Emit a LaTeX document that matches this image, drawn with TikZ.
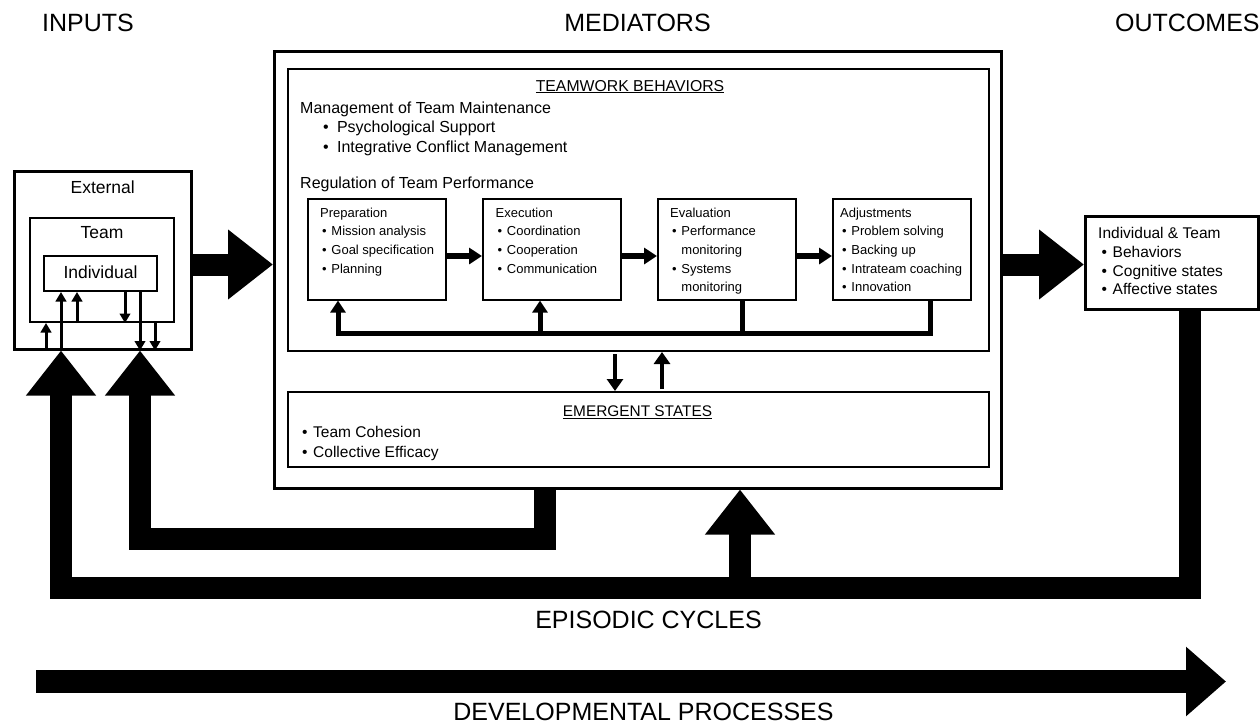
\documentclass[tikz,border=0pt]{standalone}
\usepackage{fontspec}
\setmainfont{Liberation Sans}
\usetikzlibrary{arrows.meta,positioning}
\newcommand{\bul}[1][2pt]{\hspace*{#1}\textbullet\hspace{0.36em}}
\newcommand{\nobul}[1][2pt]{\hspace*{#1}\phantom{\textbullet}\hspace{0.36em}}
\begin{document}
\begin{tikzpicture}[x=1pt, y=-1pt,
    framebox/.style={draw, line width=2.5pt, inner sep=0pt, anchor=north west},
    secbox/.style={draw, line width=2pt, inner sep=0pt, anchor=north west},
    phasebox/.style={draw, line width=1.6pt, minimum width=138pt, minimum height=101pt, inner sep=0pt, anchor=north west},
    phasetxt/.style={anchor=north west, inner sep=0pt, align=left, font=\fontsize{13}{18.7}\selectfont},
    headlbl/.style={inner sep=0pt, font=\fontsize{25}{30}\selectfont},
    extlbl/.style={anchor=base, inner sep=0pt, font=\fontsize{17.5}{21}\selectfont},
    bigarrow/.style={line width=22pt, line join=miter, -{Triangle[width=67pt,length=45pt]}},
    devarrow/.style={line width=23pt, -{Triangle[width=67pt,length=40pt]}},
    phasearrow/.style={line width=5.5pt, -{Triangle[width=16pt,length=13pt]}},
    fbline/.style={line width=5pt, line join=miter},
    fbarrow/.style={fbline, -{Triangle[width=15pt,length=12pt]}},
    midarrow/.style={line width=4pt, shorten <=2pt, -{Triangle[width=16pt,length=12pt]}},
    smallarr/.style={line width=3pt, -{Triangle[width=10.5pt,length=9.5pt]}}]
  \useasboundingbox (0,0) rectangle (1260,724);

  % column heads
  \node[headlbl, anchor=base west] (inputs) at (42,31) {INPUTS};
  \node[headlbl, anchor=base] (mediators) at (637.5,31) {MEDIATORS};
  \node[headlbl, anchor=base west] (outcomes) at (1115,31) {OUTCOMES};

  % inputs
  \node[framebox, minimum width=177pt, minimum height=178pt] (ext) at (13,170) {};
  \node[framebox, line width=2pt, minimum width=144pt, minimum height=104pt] (team) at (29,217) {};
  \node[framebox, line width=2pt, minimum width=113pt, minimum height=35pt] (indiv) at (43,255) {};
  \node[extlbl] (extname) at (ext.north |- 0,193.3) {External};
  \node[extlbl] (teamname) at (team.north |- 0,238.3) {Team};
  \node[extlbl] (indivname) at (indiv.north |- 0,278.3) {Individual};
  \draw[smallarr] (ext.south -| 46,0) -- (team.south -| 46,0);
  \draw[smallarr] (ext.south -| 61,0) -- (indiv.south -| 61,0);
  \draw[smallarr] (team.south -| 77,0) -- (indiv.south -| 77,0);
  \draw[smallarr] (indiv.south -| 125,0) -- (team.south -| 125,0);
  \draw[smallarr] (indiv.south -| 140,0) -- (ext.south -| 140,0);
  \draw[smallarr] (team.south -| 155,0) -- (ext.south -| 155,0);

  % mediators
  \node[framebox, minimum width=727pt, minimum height=437pt] (med) at (273,50) {};
  \node[secbox, minimum width=701pt, minimum height=282pt] (tb) at (287,68) {};
  \node[secbox, minimum width=701pt, minimum height=75pt] (es) at (287,391) {};
  \node[anchor=base, inner sep=0pt, font=\fontsize{15.8}{19}\selectfont] (tbhead) at (630,91) {\underline{TEAMWORK BEHAVIORS}};
  \node[anchor=north west, inner sep=0pt, align=left, font=\fontsize{16}{19.5}\selectfont] (maint) at ([shift={(13,33.2)}]tb.north west)
    {Management of Team Maintenance\\\bul[23pt]\hspace{2.5pt}Psychological Support\\\bul[23pt]\hspace{2.5pt}Integrative Conflict Management};
  \node[anchor=north west, inner sep=0pt, font=\fontsize{16}{19.5}\selectfont] (regul) at ([shift={(13,108.8)}]tb.north west) {Regulation of Team Performance};

  \node[phasebox] (prep) at (307,198) {};
  \node[phasebox] (exec) at (482,198) {};
  \node[phasebox] (eval) at (657,198) {};
  \node[phasebox] (adj) at (832,198) {};
  \node[phasetxt] (preptxt) at ([shift={(13,9.4)}]prep.north west)
    {Preparation\\\bul Mission analysis\\\bul Goal specification\\\bul Planning};
  \node[phasetxt] (exectxt) at ([shift={(13.5,9.4)}]exec.north west)
    {Execution\\\bul Coordination\\\bul Cooperation\\\bul Communication};
  \node[phasetxt] (evaltxt) at ([shift={(13,9.4)}]eval.north west)
    {Evaluation\\\bul Performance\\\nobul monitoring\\\bul Systems\\\nobul monitoring};
  \node[phasetxt] (adjtxt) at ([shift={(8,9.4)}]adj.north west)
    {Adjustments\\\bul Problem solving\\\bul Backing up\\\bul Intrateam coaching\\\bul Innovation};
  \draw[phasearrow] (prep.east |- 0,256) -- (exec.west |- 0,256);
  \draw[phasearrow] (exec.east |- 0,256) -- (eval.west |- 0,256);
  \draw[phasearrow] (eval.east |- 0,256) -- (adj.west |- 0,256);

  % feedback under the phases
  \coordinate (fbL) at (338,333);
  \coordinate (fbX) at (540,333);
  \coordinate (fbE) at (742,333);
  \coordinate (fbR) at (930,333);
  \draw[fbarrow] (adj.south -| fbR) -- (fbR) -- (fbL) -- (prep.south -| fbL);
  \draw[fbline] (eval.south -| fbE) -- (fbE);
  \draw[fbarrow] (fbX) -- (exec.south -| fbX);

  \draw[midarrow] (tb.south -| 615,0) -- (es.north -| 615,0);
  \draw[midarrow] (es.north -| 662,0) -- (tb.south -| 662,0);

  \node[anchor=base, inner sep=0pt, font=\fontsize{15.4}{19}\selectfont] (eshead) at (637.5,416.7) {\underline{EMERGENT STATES}};
  \node[anchor=north west, inner sep=0pt, align=left, font=\fontsize{15.5}{19.4}\selectfont] (estxt) at ([shift={(15,35.2)}]es.north west)
    {\bul[0pt]Team Cohesion\\\bul[0pt]Collective Efficacy};

  % outcomes
  \node[framebox, minimum width=173pt, minimum height=93pt] (out) at (1084,215) {};
  \node[anchor=north west, inner sep=0pt, align=left, font=\fontsize{15.5}{18.7}\selectfont] (outtxt) at ([shift={(14,12.2)}]out.north west)
    {Individual \& Team\\\bul[3.5pt]Behaviors\\\bul[3.5pt]Cognitive states\\\bul[3.5pt]Affective states};

  \draw[bigarrow] (ext.east |- 0,264.5) -- (med.west |- 0,264.5);
  \draw[bigarrow] (med.east |- 0,264.5) -- (out.west |- 0,264.5);

  % episodic loops
  \coordinate (loopR) at (1190,588);
  \coordinate (loopM) at (740,588);
  \coordinate (loopL) at (61,588);
  \coordinate (backR) at (545,538.5);
  \coordinate (backL) at (140,538.5);
  \draw[bigarrow] (out.south -| loopR) -- (loopR) -- (loopL) -- (ext.south -| loopL);
  \draw[bigarrow] (loopM) -- (med.south -| loopM);
  \draw[bigarrow] (med.south -| backR) -- (backR) -- (backL) -- (ext.south -| backL);
  \node[headlbl, anchor=base] (episodic) at (648.5,628) {EPISODIC CYCLES};

  % development
  \coordinate (devS) at (36,681.5);
  \coordinate (devE) at (1226,681.5);
  \draw[devarrow] (devS) -- (devE);
  \node[headlbl, anchor=base] (develop) at (643.5,720) {DEVELOPMENTAL PROCESSES};
\end{tikzpicture}
\end{document}
